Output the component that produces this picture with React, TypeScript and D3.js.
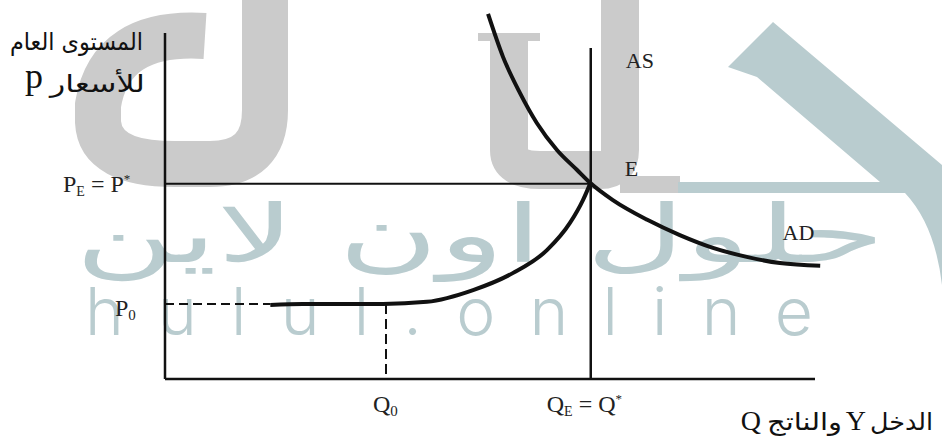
import React from "react";
import * as d3 from "d3";

// curve data (Q = output, P = price level)
const asQ = [1.62, 2.12, 3.35, 4.03, 4.74, 5.35, 5.88, 6.23, 6.43, 6.54];
const asP = [2.14, 2.17, 2.17, 2.23, 2.57, 3.06, 3.73, 4.51, 5.17, 5.64];
const adQ = [4.97, 5.2, 5.46, 5.72, 6.03, 6.34, 6.54, 6.89, 7.42, 7.92, 8.43, 8.95, 9.46, 10.08];
const adP = [10.55, 9.31, 8.27, 7.4, 6.62, 6.04, 5.67, 5.17, 4.6, 4.16, 3.79, 3.53, 3.35, 3.27];

const q0 = 3.4;
const qE = 6.55;
const p0 = 2.17;
const pE = 5.64;
const asTop = 9.57;
const flatStart = 1.62;

const width = 942;
const height = 436;
const serif = "'Liberation Serif', 'Times New Roman', serif";
const arabic = "'DejaVu Sans', sans-serif";
const teal = "#b9cccf";
const grey = "#cbcbcb";

const App = () => {
  const x = d3.scaleLinear().domain([0, 10]).range([165, 815]);
  const y = d3.scaleLinear().domain([0, 10]).range([379, 33]);

  const line = d3
    .line<[number, number]>()
    .x((d) => x(d[0]))
    .y((d) => y(d[1]))
    .curve(d3.curveMonotoneX);

  const asPts = asQ.map((q, i) => [q, asP[i]] as [number, number]);
  const adPts = adQ.map((q, i) => [q, adP[i]] as [number, number]);

  return (
    <svg
      width={width}
      height={height}
      style={{ position: "absolute", left: 0, top: 0, background: "#fff" }}
    >
      {/* watermark */}
      <g>
        <path
          d="M 205 36 Q 110 30 98 105 L 98 122 Q 100 164 175 164 L 210 164 Q 265 164 265 110 L 265 0"
          fill="none"
          stroke={grey}
          strokeWidth={46}
        />
        <path
          d="M 509 36 L 509 150 Q 509 170 540 170 L 600 170 Q 620 170 620 150 L 620 0"
          fill="none"
          stroke={grey}
          strokeWidth={38}
        />
        <rect x={478} y={33} width={62} height={8} fill={grey} />
        <rect x={620} y={176} width={60} height={17} fill={grey} />
        <path
          d="M 773 22 L 942 165 L 942 285 Q 935 225 905 193 L 678 193 L 678 182 L 880 182 L 757 77 L 728 67 Z"
          fill={teal}
        />
        <text
          x={480}
          y={262}
          textAnchor="middle"
          direction="rtl"
          fontFamily={arabic}
          fontSize={80}
          fill={teal}
          textLength={810}
          lengthAdjust="spacingAndGlyphs"
        >
          حلول اون لاين
        </text>
        <text
          x={85}
          y={335}
          fontFamily="Inter, 'DejaVu Sans', sans-serif"
          fontWeight={300}
          fontSize={66}
          fill={teal}
          textLength={728}
          lengthAdjust="spacing"
        >
          hulul.online
        </text>
      </g>

      {/* axes */}
      <line x1={x(0)} x2={x(0)} y1={y(10)} y2={y(0)} stroke="#111" strokeWidth={2.5} />
      <line x1={x(0)} x2={x(10)} y1={y(0)} y2={y(0)} stroke="#111" strokeWidth={2.5} />

      {/* guide lines */}
      <line x1={x(0)} x2={x(qE)} y1={y(pE)} y2={y(pE)} stroke="#111" strokeWidth={2} />
      <line
        x1={x(0)}
        x2={x(flatStart)}
        y1={y(p0)}
        y2={y(p0)}
        stroke="#111"
        strokeWidth={2}
        strokeDasharray="9,5"
      />
      <line
        x1={x(q0)}
        x2={x(q0)}
        y1={y(p0)}
        y2={y(0)}
        stroke="#111"
        strokeWidth={2}
        strokeDasharray="10,5"
      />

      {/* vertical AS */}
      <line x1={x(qE)} x2={x(qE)} y1={y(asTop)} y2={y(0)} stroke="#111" strokeWidth={2.5} />

      {/* AS curve and AD curve */}
      <path d={line(asPts) || ""} fill="none" stroke="#111" strokeWidth={4} />
      <path d={line(adPts) || ""} fill="none" stroke="#111" strokeWidth={4} />

      {/* curve labels */}
      <g fontFamily={serif} fontSize={22} fill="#222">
        <text x={x(qE) + 35} y={y(asTop) + 20}>AS</text>
        <text x={x(qE) + 34} y={y(pE) - 8}>E</text>
        <text x={x(9.5)} y={y(3.27) - 26}>AD</text>
      </g>

      {/* axis value labels */}
      <g fontFamily={serif} fontSize={24} fill="#222">
        <text x={x(0) - 102} y={y(pE) + 8}>
          P<tspan fontSize={14} dy={4}>E</tspan>
          <tspan dy={-4}> = P</tspan>
          <tspan fontSize={13} dy={-9}>*</tspan>
        </text>
        <text x={x(0) - 50} y={y(p0) + 12}>
          P<tspan fontSize={15} dy={4}>0</tspan>
        </text>
        <text x={x(q0) - 13} y={y(0) + 33}>
          Q<tspan fontSize={15} dy={4}>0</tspan>
        </text>
        <text x={x(qE) - 44} y={y(0) + 33}>
          Q<tspan fontSize={14} dy={4}>E</tspan>
          <tspan dy={-4}> = Q</tspan>
          <tspan fontSize={13} dy={-9}>*</tspan>
        </text>
      </g>

      {/* axis titles */}
      <g fill="#111">
        <text
          x={143}
          y={50}
          textAnchor="end"
          fontFamily={arabic}
          fontSize={24}
          textLength={133}
          lengthAdjust="spacingAndGlyphs"
        >
          المستوى العام
        </text>
        <text
          x={145}
          y={92}
          textAnchor="end"
          fontFamily={arabic}
          fontSize={24}
          textLength={95}
          lengthAdjust="spacingAndGlyphs"
        >
          للأسعار
        </text>
        <text x={25} y={88} fontFamily={serif} fontSize={36}>
          p
        </text>
        <text
          x={933}
          y={430}
          textAnchor="end"
          fontFamily={arabic}
          fontSize={24}
          textLength={63}
          lengthAdjust="spacingAndGlyphs"
        >
          الدخل
        </text>
        <text x={866} y={430} textAnchor="end" fontFamily={serif} fontSize={28}>
          Y
        </text>
        <text
          x={842}
          y={430}
          textAnchor="end"
          fontFamily={arabic}
          fontSize={24}
          textLength={75}
          lengthAdjust="spacingAndGlyphs"
        >
          والناتج
        </text>
        <text x={761} y={430} textAnchor="end" fontFamily={serif} fontSize={28}>
          Q
        </text>
      </g>
    </svg>
  );
};

export default App;
